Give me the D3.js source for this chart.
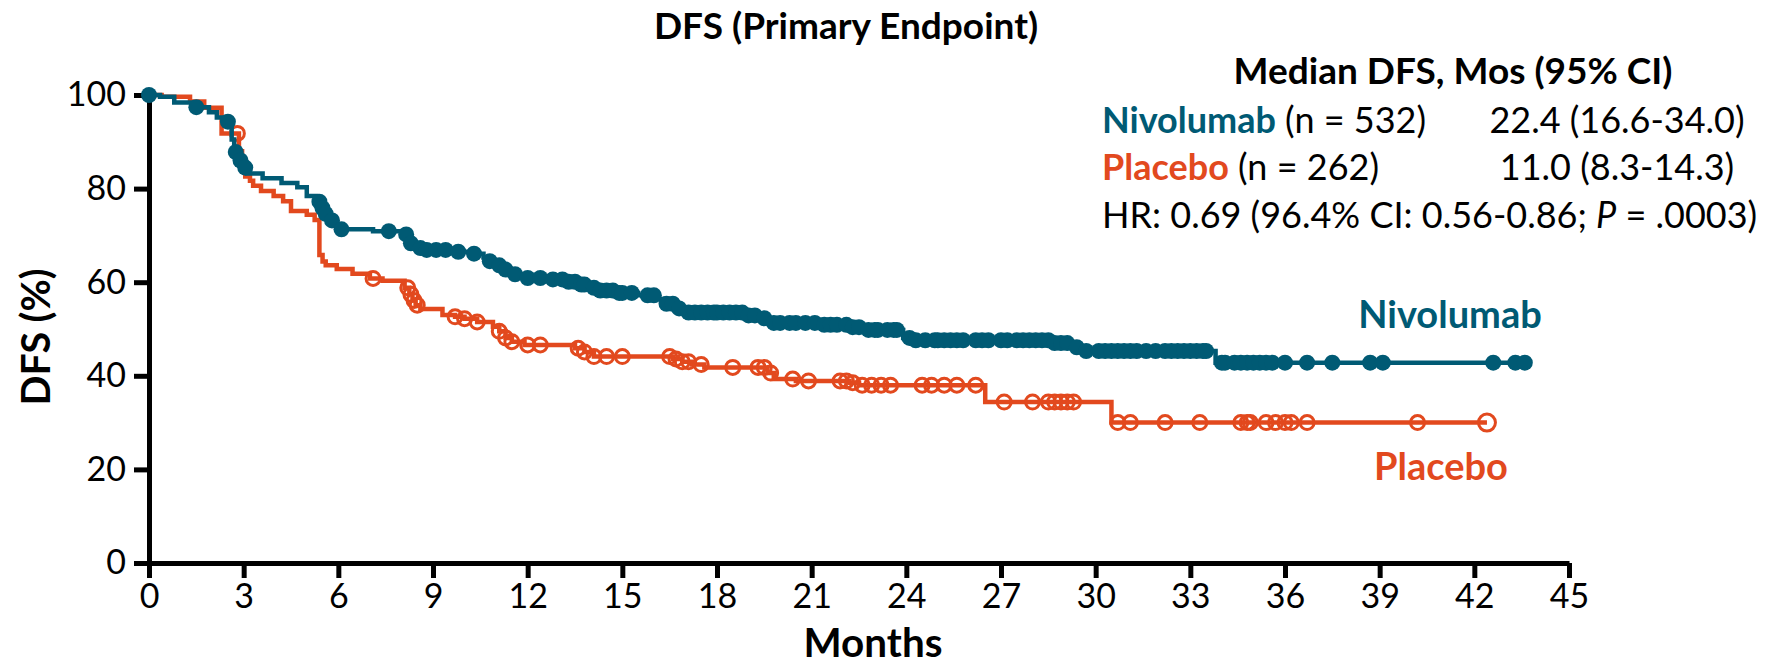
<!DOCTYPE html>
<html>
<head>
<meta charset="utf-8">
<script src="https://cdn.jsdelivr.net/npm/d3@7"></script>
<style>
  body { margin: 0; background: #fff; }
  svg { display: block; font-family: Lato, 'Open Sans', sans-serif; }
</style>
</head>
<body>
<svg id="km" width="1785" height="668"></svg>
<script>
// ticks
const monthTicks = d3.range(0, 46, 3);
const dfsTicks = [0, 20, 40, 60, 80, 100];

// KM steps: [month, DFS %] (value holds from that month on)
const nivoSteps = [
  [0, 100], [0.35, 99.6], [0.8, 98.4], [1.35, 97.4], [1.9, 96.3], [2.15, 95.2],
  [2.45, 94.3], [2.62, 90.5], [2.7, 87.8], [2.85, 86.0], [3.0, 84.5], [3.1, 83.2],
  [3.6, 82.2], [4.2, 81.2], [4.7, 80.3], [5.0, 78.4], [5.3, 77.2], [5.45, 75.8],
  [5.55, 74.6], [5.7, 73.2], [5.85, 72.2], [6.0, 71.3], [7.1, 70.9], [8.1, 70.2],
  [8.2, 68.3], [8.35, 67.3], [8.8, 66.9], [9.6, 66.5], [10.3, 66.1], [10.6, 65.3],
  [10.8, 64.5], [11.0, 63.6], [11.2, 62.7], [11.5, 61.7], [11.9, 60.9], [12.8, 60.6],
  [13.2, 60.1], [13.6, 59.5], [13.9, 58.8], [14.3, 58.2], [14.9, 57.7], [15.5, 57.2],
  [16.1, 56.4], [16.4, 55.4], [16.8, 54.4], [17.1, 53.5], [18.9, 52.9], [19.3, 52.3],
  [19.6, 51.3], [21.2, 50.9], [22.3, 50.4], [22.6, 49.8], [23.9, 48.1], [24.2, 47.6],
  [28.6, 47.0], [29.2, 46.1], [29.6, 45.3], [33.8, 42.8], [43.6, 42.8]
];
const nivoCensor = [
  0, 1.5, 2.5, 2.75, 2.9, 3.05, 5.4, 5.5, 5.6, 5.8, 6.1, 7.6, 8.15, 8.3, 8.6, 8.8,
  9.1, 9.4, 9.8, 10.3, 10.8, 11.1, 11.3, 11.6, 12.0, 12.4, 12.8, 13.1, 13.3, 13.5,
  13.7, 13.8, 14.1, 14.3, 14.5, 14.7, 14.9, 15.0, 15.3, 15.8, 16.0, 16.4, 16.6, 16.8,
  17.1, 17.3, 17.5, 17.7, 17.9, 18.0, 18.2, 18.4, 18.6, 18.8, 19.0, 19.2, 19.5, 19.8,
  20.0, 20.3, 20.5, 20.8, 21.1, 21.4, 21.6, 21.8, 22.1, 22.3, 22.5, 22.8, 23.0, 23.1,
  23.4, 23.6, 23.7, 24.1, 24.3, 24.6, 24.9, 25.0, 25.2, 25.4, 25.6, 25.8, 26.2, 26.4,
  26.6, 27.0, 27.2, 27.5, 27.7, 27.9, 28.1, 28.3, 28.5, 28.7, 28.9, 29.1, 29.4, 29.7,
  30.1, 30.3, 30.5, 30.7, 30.9, 31.1, 31.3, 31.6, 31.9, 32.2, 32.4, 32.6, 32.8, 33.0,
  33.2, 33.4, 33.5, 34.0, 34.1, 34.4, 34.6, 34.8, 35.0, 35.2, 35.4, 35.6, 36.0, 36.7,
  37.5, 38.7, 39.1, 42.6, 43.3, 43.6
];

const placeboSteps = [
  [0, 100], [0.4, 99.6], [1.3, 98.6], [1.75, 97.3], [2.3, 91.8], [2.85, 88.0],
  [2.95, 84.5], [3.05, 82.6], [3.2, 81.7], [3.3, 80.6], [3.55, 79.5], [3.95, 78.4],
  [4.25, 77.3], [4.5, 75.2], [5.0, 74.4], [5.25, 73.3], [5.4, 65.8], [5.5, 64.4],
  [5.6, 63.6], [5.95, 62.8], [6.45, 61.8], [7.0, 60.8], [7.4, 60.3], [8.1, 58.8],
  [8.25, 57.4], [8.35, 56.1], [8.45, 55.1], [8.6, 54.3], [9.3, 53.0], [9.7, 52.6],
  [10.0, 52.2], [10.4, 51.5], [10.9, 50.5], [11.1, 49.5], [11.3, 48.1], [11.5, 47.3],
  [11.9, 46.6], [13.5, 45.9], [13.8, 45.1], [14.1, 44.1], [16.6, 43.6], [16.9, 43.0],
  [17.2, 42.4], [17.6, 41.8], [19.6, 40.6], [19.8, 39.3], [20.5, 38.9], [22.2, 38.5],
  [22.5, 38.0], [26.5, 34.4], [30.5, 30.0], [42.4, 30.0]
];
const placeboCensor = [
  2.8, 7.1, 8.2, 8.3, 8.4, 8.5, 9.7, 10.0, 10.4, 11.1, 11.3, 11.5, 12.0, 12.4, 13.6,
  13.8, 14.1, 14.5, 15.0, 16.5, 16.7, 16.9, 17.1, 17.5, 18.5, 19.3, 19.5, 19.7, 20.4,
  20.9, 21.9, 22.1, 22.3, 22.6, 22.9, 23.2, 23.5, 24.5, 24.8, 25.2, 25.6, 26.2, 27.1,
  28.0, 28.5, 28.7, 28.9, 29.1, 29.3, 30.7, 31.1, 32.2, 33.3, 34.6, 34.8, 34.9, 35.4,
  35.7, 36.0, 36.2, 36.7, 40.2, 42.4
];

// text
const titleText = 'DFS (Primary Endpoint)';
const xTitle = 'Months';
const yTitle = 'DFS (%)';
const legendHeader = 'Median DFS, Mos (95% CI)';
const armNames = ['Nivolumab', 'Placebo'];
const armN = [' (n = 532)', ' (n = 262)'];
const armMedian = ['22.4 (16.6-34.0)', '11.0 (8.3-14.3)'];
const hrParts = ['HR: 0.69 (96.4% CI: 0.56-0.86; ', 'P', ' = .0003)'];

const teal = '#005a74';
const orange = '#e2491e';

const svg = d3.select('#km');

const x = d3.scaleLinear().domain([0, 45]).range([149, 1569]);
const y = d3.scaleLinear().domain([0, 100]).range([563, 95]);

function survAt(steps, t) {
  let s = steps[0][1];
  steps.forEach(d => { if (d[0] <= t) s = d[1]; });
  return s;
}

function styleAxis(g) {
  g.attr('font-family', null).attr('font-size', null);
  g.select('.domain').attr('stroke', '#000').attr('stroke-width', 5);
  g.selectAll('.tick line').attr('stroke', '#000').attr('stroke-width', 5);
  g.selectAll('.tick text').attr('fill', '#000').style('font-size', '34px');
}

svg.append('g')
  .attr('transform', 'translate(0,563)')
  .call(d3.axisBottom(x).tickValues(monthTicks).tickSize(15).tickSizeOuter(0).tickPadding(6))
  .call(styleAxis);

svg.append('g')
  .attr('transform', 'translate(149,0)')
  .call(d3.axisLeft(y).tickValues(dfsTicks).tickSize(15).tickSizeOuter(0).tickPadding(8))
  .call(styleAxis);

const line = d3.line()
  .x(d => x(d[0]))
  .y(d => y(d[1]))
  .curve(d3.curveStepAfter);

// placebo
svg.append('path')
  .datum(placeboSteps)
  .attr('d', line)
  .attr('fill', 'none')
  .attr('stroke', orange)
  .attr('stroke-width', 4.5);

svg.selectAll('.pcens')
  .data(placeboCensor)
  .enter()
  .append('circle')
  .attr('class', 'pcens')
  .attr('cx', d => x(d))
  .attr('cy', d => y(survAt(placeboSteps, d)))
  .attr('r', (d, i) => i === placeboCensor.length - 1 ? 8.5 : 7)
  .attr('fill', 'none')
  .attr('stroke', orange)
  .attr('stroke-width', 3);

// nivolumab
svg.append('path')
  .datum(nivoSteps)
  .attr('d', line)
  .attr('fill', 'none')
  .attr('stroke', teal)
  .attr('stroke-width', 4.5);

svg.selectAll('.ncens')
  .data(nivoCensor)
  .enter()
  .append('circle')
  .attr('class', 'ncens')
  .attr('cx', d => x(d))
  .attr('cy', d => y(survAt(nivoSteps, d)))
  .attr('r', 8)
  .attr('fill', teal);

// titles
svg.append('text')
  .attr('x', 846).attr('y', 39)
  .attr('text-anchor', 'middle')
  .attr('font-weight', 'bold')
  .attr('font-size', 37)
  .text(titleText);

svg.append('text')
  .attr('x', 873).attr('y', 657)
  .attr('text-anchor', 'middle')
  .attr('font-weight', 'bold')
  .attr('font-size', 40)
  .attr('textLength', 139)
  .attr('lengthAdjust', 'spacingAndGlyphs')
  .text(xTitle);

svg.append('text')
  .attr('transform', 'translate(50,337) rotate(-90)')
  .attr('text-anchor', 'middle')
  .attr('font-weight', 'bold')
  .attr('font-size', 40)
  .attr('textLength', 137)
  .attr('lengthAdjust', 'spacingAndGlyphs')
  .text(yTitle);

// curve labels
svg.append('text')
  .attr('x', 1450).attr('y', 328)
  .attr('text-anchor', 'middle')
  .attr('font-weight', 'bold')
  .attr('font-size', 38)
  .attr('fill', teal)
  .text(armNames[0]);

svg.append('text')
  .attr('x', 1441).attr('y', 480)
  .attr('text-anchor', 'middle')
  .attr('font-weight', 'bold')
  .attr('font-size', 38)
  .attr('fill', orange)
  .text(armNames[1]);

// legend block
const lg = svg.append('g').attr('font-size', 36);

lg.append('text')
  .attr('x', 1453).attr('y', 84)
  .attr('text-anchor', 'middle')
  .attr('font-weight', 'bold')
  .attr('font-size', 37)
  .text(legendHeader);

const rowY = [133, 180];
armNames.forEach((name, i) => {
  const t = lg.append('text').attr('x', 1102).attr('y', rowY[i]);
  t.append('tspan').attr('font-weight', 'bold').attr('fill', i === 0 ? teal : orange).text(name);
  t.append('tspan').text(armN[i]);
  lg.append('text')
    .attr('x', 1617).attr('y', rowY[i])
    .attr('text-anchor', 'middle')
    .text(armMedian[i]);
});

const hr = lg.append('text').attr('x', 1102).attr('y', 228);
hr.append('tspan').text(hrParts[0]);
hr.append('tspan').attr('font-style', 'italic').text(hrParts[1]);
hr.append('tspan').text(hrParts[2]);
</script>
</body>
</html>
